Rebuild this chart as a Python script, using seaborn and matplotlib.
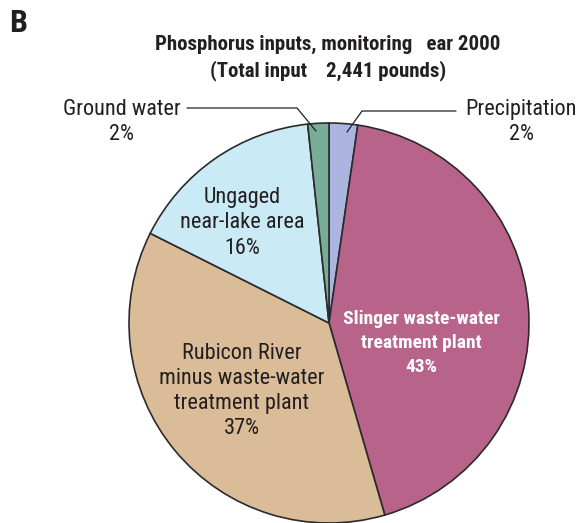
import matplotlib
matplotlib.use("Agg")
import matplotlib.pyplot as plt
import seaborn as sns

sns.set_theme(style="white")
plt.rcParams['font.family'] = ['Roboto Condensed', 'DejaVu Sans']
plt.rcParams['font.stretch'] = 'condensed'

categories = ["Precipitation", "Slinger waste-water\ntreatment plant",
              "Rubicon River\nminus waste-water\ntreatment plant",
              "Ungaged\nnear-lake area", "Ground water"]
values = [2.3, 43.2, 36.9, 15.9, 1.7]
pct_labels = ["2%", "43%", "37%", "16%", "2%"]
colors = sns.color_palette(["#abb5df", "#b8638a", "#dbbc98", "#caeaf5", "#79ad97"])

fig = plt.figure(figsize=(5.77, 5.23), dpi=100)
ax = fig.add_axes([0, 0, 1, 1])

cx, cy, r = 329, 200, 200
ax.pie(values, colors=colors, startangle=90, counterclock=False,
       center=(cx, cy), radius=r, frame=True,
       wedgeprops=dict(edgecolor="#2b2b2b", linewidth=1.2))
ax.set_xlim(0, 577)
ax.set_ylim(0, 523)
ax.set_aspect('equal')
ax.axis('off')

def Y(py):
    return 523 - py

fs = 16
tc = "#231f20"
# inside labels
ax.text(242, Y(223), "Ungaged\nnear-lake area\n16%", ha="center", va="center",
        fontsize=fs, color=tc, linespacing=1.25)
ax.text(242, Y(391), "Rubicon River\nminus waste-water\ntreatment plant\n37%", ha="center",
        va="center", fontsize=fs, color=tc, linespacing=1.27)
ax.text(421, Y(343), "Slinger waste-water\ntreatment plant\n43%", ha="center",
        va="center", fontsize=14, color="white", fontweight="bold", linespacing=1.42)

# outside labels
ax.text(122, Y(122), "Ground water\n2%", ha="center", va="center",
        fontsize=fs, color=tc, linespacing=1.22)
ax.text(521, Y(122), "Precipitation\n2%", ha="center", va="center",
        fontsize=fs, color=tc, linespacing=1.22)

# leader lines
ax.plot([187, 297, 316], [Y(108), Y(108), Y(131)], color="#231f20", lw=0.9)
ax.plot([347, 362, 456], [Y(132), Y(111), Y(111)], color="#231f20", lw=0.9)

# title
ax.text(328, Y(58), "Phosphorus inputs, monitoring   ear 2000\n(Total input    2,441 pounds)",
        ha="center", va="center", fontsize=15, fontweight="bold", color=tc,
        linespacing=1.36)
ax.text(9, Y(23), "B", ha="left", va="center", fontsize=23, fontweight="bold",
        color=tc)

fig.savefig("out.png", dpi=100)
